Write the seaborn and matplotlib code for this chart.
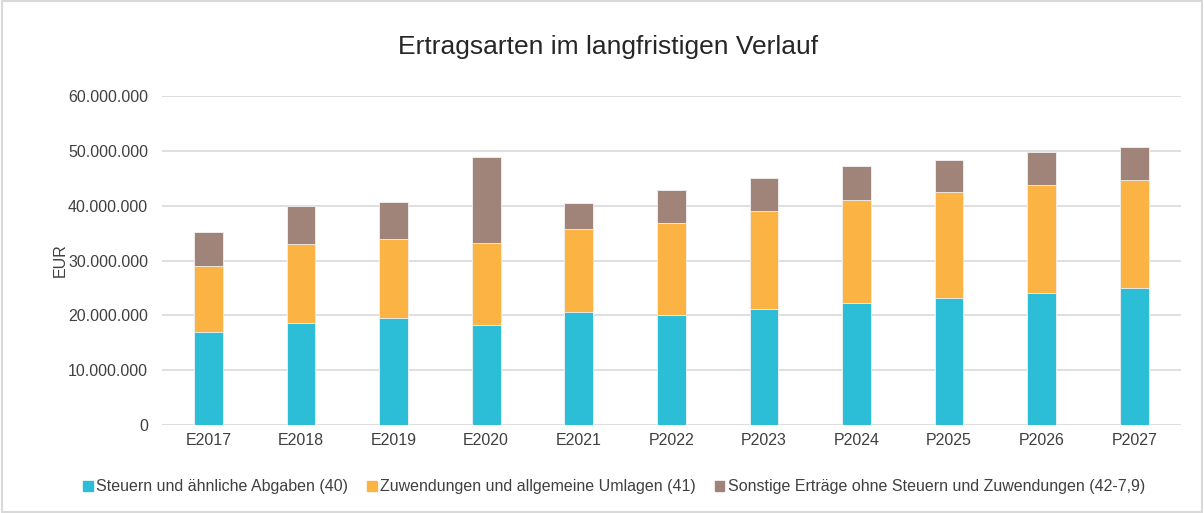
import pandas as pd
import matplotlib.pyplot as plt
import seaborn as sns
from matplotlib.ticker import FuncFormatter
from matplotlib.patches import Patch

# Werte (EUR)
jahre = ['E2017', 'E2018', 'E2019', 'E2020', 'E2021', 'P2022',
         'P2023', 'P2024', 'P2025', 'P2026', 'P2027']
steuern = [17.0e6, 18.6e6, 19.5e6, 18.25e6, 20.55e6, 20.05e6,
           21.1e6, 22.2e6, 23.2e6, 24.05e6, 24.9e6]
zuwendungen = [12.05e6, 14.4e6, 14.4e6, 15.0e6, 15.15e6, 16.85e6,
               18.0e6, 18.9e6, 19.25e6, 19.8e6, 19.8e6]
sonstige = [6.1e6, 6.95e6, 6.7e6, 15.7e6, 4.75e6, 5.9e6,
            5.9e6, 6.05e6, 5.95e6, 5.95e6, 6.05e6]

labels = ['Steuern und ähnliche Abgaben (40)',
          'Zuwendungen und allgemeine Umlagen (41)',
          'Sonstige Erträge ohne Steuern und Zuwendungen (42-7,9)']
colors = ['#2BBED6', '#FBB343', '#A08479']

df = pd.DataFrame({'jahr': jahre, 'steuern': steuern,
                   'zuwendungen': zuwendungen, 'sonstige': sonstige})
df['cum1'] = df['steuern']
df['cum2'] = df['cum1'] + df['zuwendungen']
df['cum3'] = df['cum2'] + df['sonstige']

sns.set_style('white')
plt.rcParams['font.family'] = ['Liberation Sans', 'DejaVu Sans']

fig = plt.figure(figsize=(12.04, 5.13), dpi=100)
ax = fig.add_axes([0.1346, 0.1715, 0.846, 0.6413])

# gestapelt: oberste Summe zuerst zeichnen
for col, c in zip(['cum3', 'cum2', 'cum1'], colors[::-1]):
    sns.barplot(data=df, x='jahr', y=col, color=c, width=0.31,
                saturation=1, ax=ax, zorder=3, edgecolor='#F2F2F2', linewidth=0.6)

ax.set_ylim(0, 60e6)
ax.set_yticks(range(0, 60000001, 10000000))
ax.yaxis.set_major_formatter(FuncFormatter(lambda v, p: f'{int(v):,}'.replace(',', '.')))
ax.grid(axis='y', color='#D9D9D9', linewidth=1.2, zorder=0)
for s in ax.spines.values():
    s.set_visible(False)
ax.tick_params(axis='both', length=0, labelsize=11.5, colors='#404040', pad=10)
ax.tick_params(axis='x', pad=6)
ax.set_xlabel('')
ax.set_ylabel('EUR', fontsize=11.5, color='#404040', labelpad=0)

fig.text(0.505, 0.908, 'Ertragsarten im langfristigen Verlauf', ha='center',
         va='center', fontsize=19, color='#262626')

handles = [Patch(color=c, label=l) for c, l in zip(colors, labels)]
fig.legend(handles=handles, loc='center', bbox_to_anchor=(0.51, 0.051), ncol=3,
           frameon=False, fontsize=11.5, handlelength=0.6, handleheight=0.6,
           handletextpad=0.2, columnspacing=1.2, labelcolor='#404040')

# Rahmen um das Diagramm
fig.patches.append(plt.Rectangle((0.002, 0.002), 0.996, 0.996, transform=fig.transFigure,
                                 fill=False, edgecolor='#D9D9D9', linewidth=1.5))

fig.savefig('out.png', dpi=100)
